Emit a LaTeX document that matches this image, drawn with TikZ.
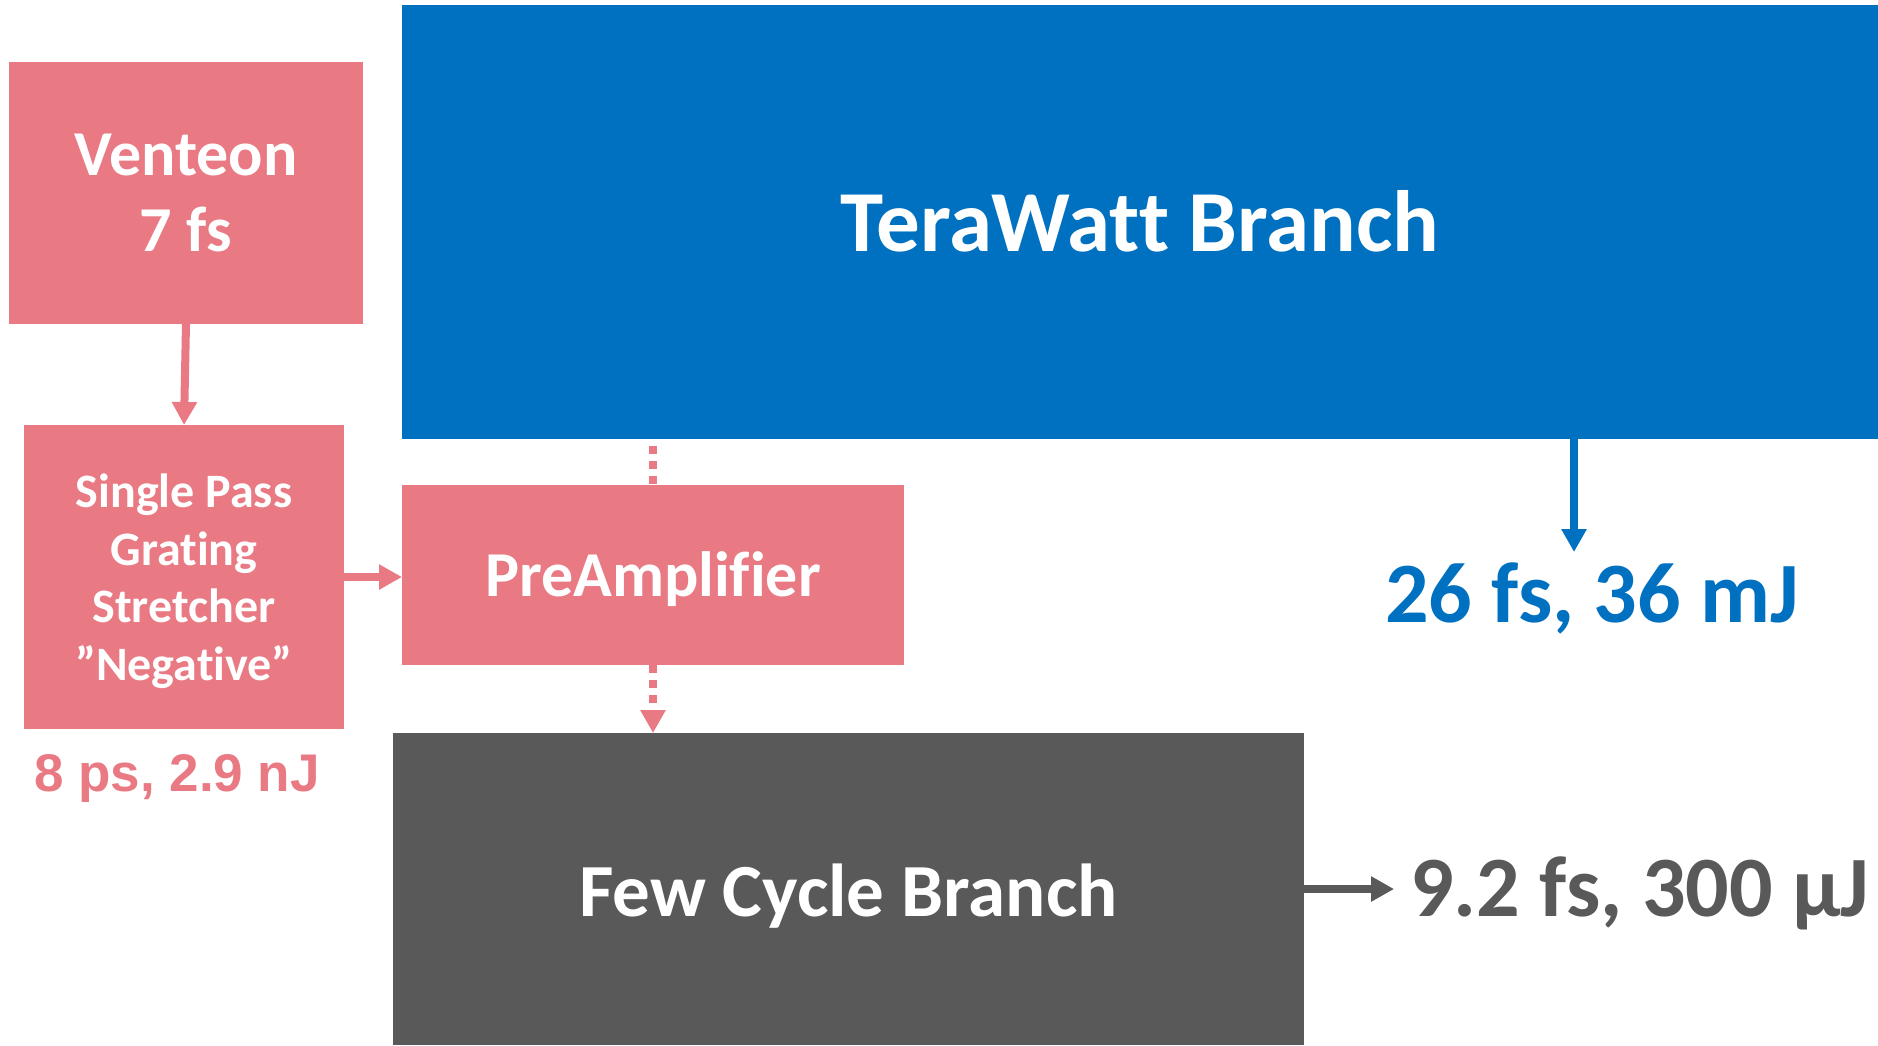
\documentclass[tikz,border=0pt]{standalone}
\usepackage{fontspec}
\setmainfont{Carlito}[Ligatures={NoCommon}]
\newfontfamily\arialfont{Liberation Sans}
\usetikzlibrary{arrows.meta}
\definecolor{pinkc}{HTML}{E97A84}
\definecolor{bluec}{HTML}{0070C0}
\definecolor{grayc}{HTML}{595959}
\tikzset{
  box/.style={rectangle, draw=none, inner sep=0pt, outer sep=0pt, text=white, align=center},
  conn/.style={line width=8pt, -{Triangle[width=24pt,length=23pt]}},
  dashconn/.style={line width=8pt, dash pattern=on 8pt off 7pt},
}
\begin{document}
\begin{tikzpicture}[x=1pt,y=-1pt]
\useasboundingbox (0,0) rectangle (1878,1045);
\begin{scope}
\clip (0,0) rectangle (1878,1045);
\node[box, fill=bluec, minimum width=1476pt, minimum height=434pt,
  text height=58pt, text depth=0pt,
  font=\fontsize{87}{100}\selectfont\bfseries] (tw) at (1140,222) {TeraWatt Branch};
\node[box, fill=pinkc, minimum width=354pt, minimum height=262pt,
  font=\fontsize{64}{76}\selectfont\bfseries] (ven) at (186,193) {Venteon\\7 fs};
\node[box, fill=pinkc, minimum width=320pt, minimum height=304pt] (sp) at (184,577) {};
\node[box, font=\fontsize{48}{57.5}\selectfont\bfseries] (spt) at ([yshift=-4pt]sp.center) {Single Pass\\Grating\\Stretcher\\”Negative”};
\node[box, fill=pinkc, minimum width=502pt, minimum height=180pt,
  text height=42pt, text depth=0pt,
  font=\fontsize{64}{72}\selectfont\bfseries] (pre) at (653,575) {PreAmplifier};
\node[box, fill=grayc, minimum width=911pt, minimum height=312pt,
  text height=54pt, text depth=0pt,
  font=\fontsize{75}{85}\selectfont\bfseries] (fc) at (848.5,889) {Few Cycle Branch};
\end{scope}

\node[anchor=base, inner sep=0pt, text=pinkc, font=\arialfont\fontsize{53}{64}\selectfont\bfseries] (l8) at (177,791) {8 ps, 2.9 nJ};
\node[anchor=base, inner sep=0pt, text=bluec, font=\fontsize{86}{100}\selectfont\bfseries] (l26) at (1592,622) {26 fs, 36 mJ};
\node[anchor=base west, inner xsep=16pt, inner ysep=0pt, text=grayc, font=\fontsize{86}{100}\selectfont\bfseries] (l9) at (1394,916) {9.2 fs, 300 µJ};

\coordinate (a26) at (1574,552);
\coordinate (d1) at (653,439);

\draw[conn, color=pinkc] (ven.south) -- (sp.north);
\draw[conn, color=pinkc] (sp.east) -- (sp.east -| pre.west);
\draw[dashconn, color=pinkc, dash phase=8pt] (d1) -- (pre.north);
\draw[dashconn, color=pinkc, -{Triangle[width=24pt,length=23pt]}] (pre.south -| d1) -- (fc.north -| d1);
\draw[conn, color=bluec] (tw.south -| a26) -- (a26);
\draw[conn, color=grayc] (fc.east) -- (fc.east -| l9.west);
\end{tikzpicture}
\end{document}
